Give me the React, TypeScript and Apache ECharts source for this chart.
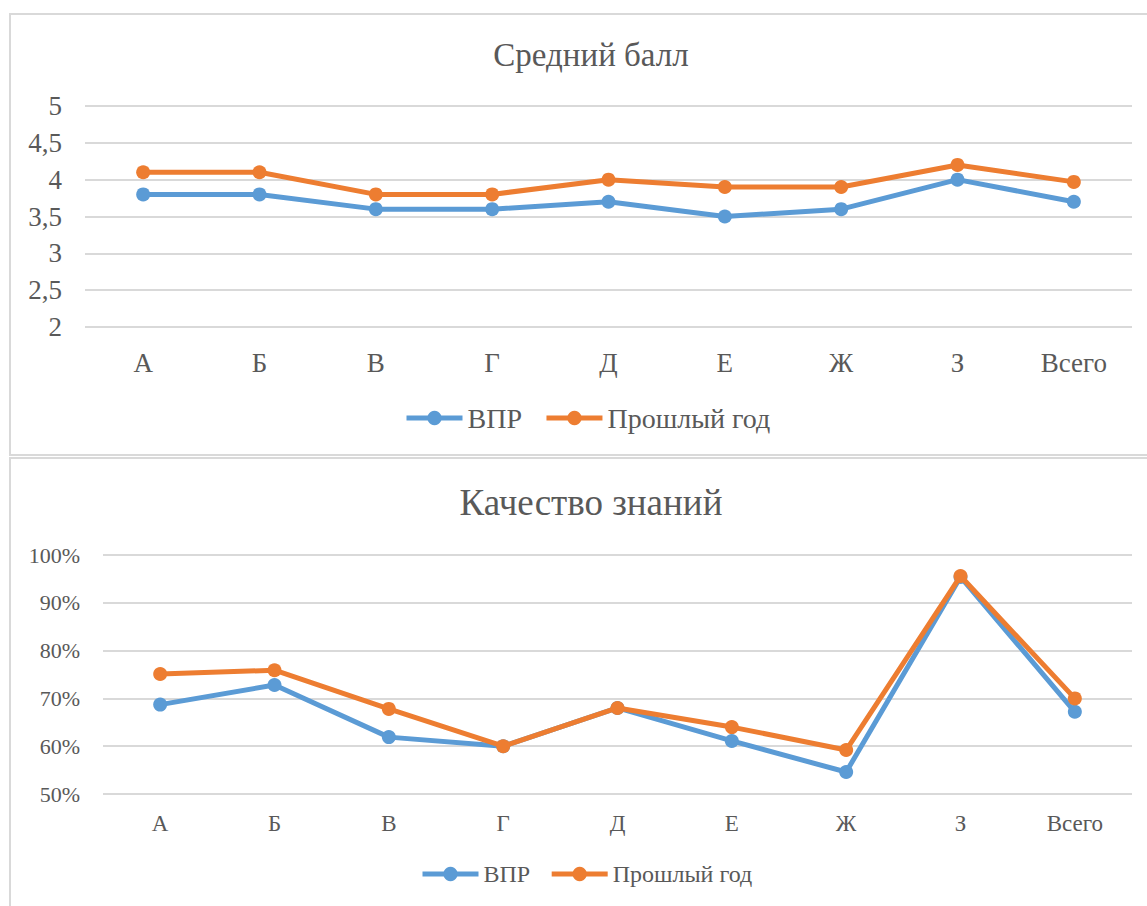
import React, { useEffect, useRef } from "react";
import * as echarts from "echarts";

const categories = ["А", "Б", "В", "Г", "Д", "Е", "Ж", "З", "Всего"];
const seriesNames = ["ВПР", "Прошлый год"];
const avgVpr = [3.8, 3.8, 3.6, 3.6, 3.7, 3.5, 3.6, 4.0, 3.7];
const avgPrev = [4.1, 4.1, 3.8, 3.8, 4.0, 3.9, 3.9, 4.2, 3.97];
const qualVpr = [68.7, 72.8, 61.9, 60.0, 68.0, 61.1, 54.6, 95.4, 67.2];
const qualPrev = [75.1, 75.9, 67.8, 60.0, 68.0, 64.0, 59.2, 95.6, 70.0];
const titles = ["Средний балл", "Качество знаний"];

const FONT = "Liberation Serif";
const TXT = "#595959";
const BLUE = "#5B9BD5";
const ORANGE = "#ED7D31";

export default function App() {
  const ref = useRef<HTMLDivElement>(null);
  useEffect(() => {
    const chart = echarts.init(ref.current!, null, { renderer: "svg" });
    const lineSeries = (name: string, data: number[], color: string, idx: number) => ({
      name,
      type: "line",
      xAxisIndex: idx,
      yAxisIndex: idx,
      data,
      symbol: "circle",
      symbolSize: 14,
      lineStyle: { color, width: 5 },
      itemStyle: { color },
      z: name === "ВПР" ? 2 : 3,
    });
    chart.setOption({
      animation: false,
      backgroundColor: "#fff",
      textStyle: { fontFamily: FONT },
      graphic: [
        { type: "rect", shape: { x: 10, y: 14, width: 1150, height: 441 }, style: { fill: "none", stroke: "#d9d9d9", lineWidth: 2 } },
        { type: "rect", shape: { x: 10, y: 458, width: 1150, height: 460 }, style: { fill: "none", stroke: "#d9d9d9", lineWidth: 2 } },
      ],
      title: [
        { text: titles[0], left: 586, top: 33, textAlign: "center", textStyle: { fontFamily: FONT, fontSize: 33, fontWeight: "normal", color: TXT } },
        { text: titles[1], left: 586, top: 479, textAlign: "center", textStyle: { fontFamily: FONT, fontSize: 37, fontWeight: "normal", color: TXT } },
      ],
      legend: [
        {
          data: seriesNames, left: 404, top: 404, padding: 0, itemWidth: 56, itemHeight: 18, itemGap: 22,
          lineStyle: { width: 5 },
          textStyle: { fontFamily: FONT, fontSize: 28, color: TXT },
        },
        {
          data: seriesNames, left: 420, top: 862, padding: 0, itemWidth: 56, itemHeight: 18, itemGap: 19,
          lineStyle: { width: 5 },
          textStyle: { fontFamily: FONT, fontSize: 24, color: TXT },
        },
      ],
      grid: [
        { left: 85, right: 15, top: 106, height: 221 },
        { left: 103, right: 15, top: 555, height: 239 },
      ],
      xAxis: [0, 1].map((i) => ({
        type: "category",
        gridIndex: i,
        data: categories,
        boundaryGap: true,
        axisLine: { show: false },
        axisTick: { show: false },
        axisLabel: { color: TXT, fontFamily: FONT, fontSize: i === 0 ? 27 : 23, margin: i === 0 ? 22 : 18 },
      })),
      yAxis: [
        {
          type: "value", gridIndex: 0, min: 2, max: 5, interval: 0.5,
          axisLine: { show: false }, axisTick: { show: false },
          splitLine: { lineStyle: { color: "#d9d9d9", width: 2 } },
          axisLabel: { color: TXT, fontFamily: FONT, fontSize: 27, margin: 23, formatter: (v: number) => String(v).replace(".", ",") },
        },
        {
          type: "value", gridIndex: 1, min: 50, max: 100, interval: 10,
          axisLine: { show: false }, axisTick: { show: false },
          splitLine: { lineStyle: { color: "#d9d9d9", width: 2 } },
          axisLabel: { color: TXT, fontFamily: FONT, fontSize: 22, margin: 23, formatter: "{value}%" },
        },
      ],
      series: [
        lineSeries(seriesNames[0], avgVpr, BLUE, 0),
        lineSeries(seriesNames[1], avgPrev, ORANGE, 0),
        lineSeries(seriesNames[0], qualVpr, BLUE, 1),
        lineSeries(seriesNames[1], qualPrev, ORANGE, 1),
      ],
    });
    return () => chart.dispose();
  }, []);
  return <div ref={ref} style={{ position: "absolute", left: 0, top: 0, width: 1147, height: 906 }} />;
}
